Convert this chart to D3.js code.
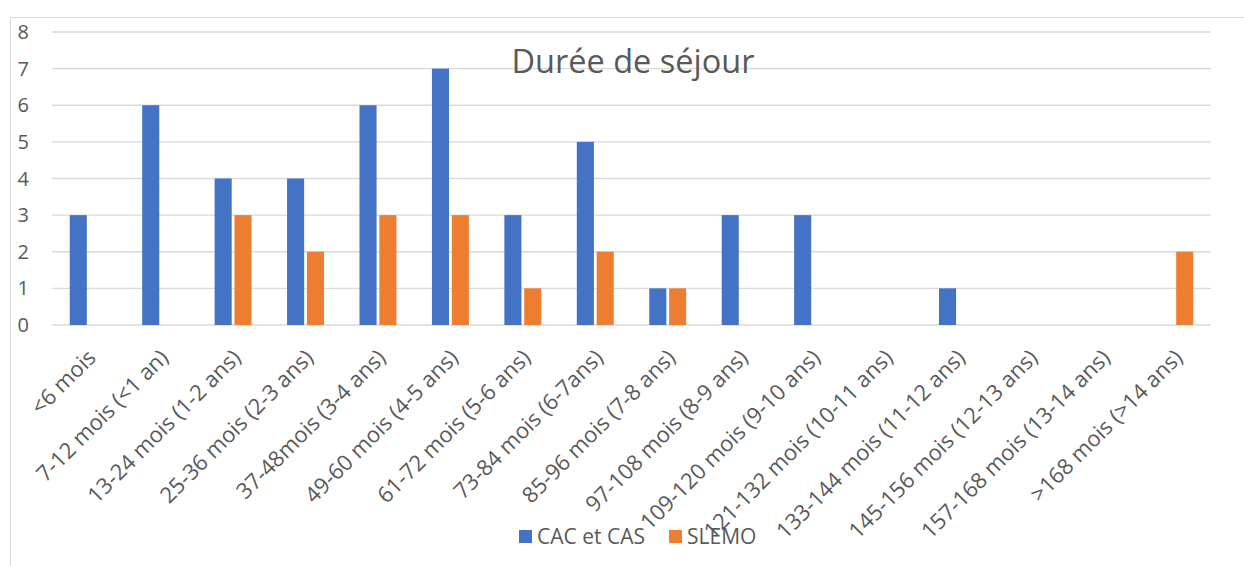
<!DOCTYPE html>
<html>
<head>
<meta charset="utf-8">
<script src="https://cdn.jsdelivr.net/npm/d3@7"></script>
<style>
  body { margin: 0; background: #fff; }
  text { font-family: "Open Sans", "Noto Sans", sans-serif; fill: #595959; }
</style>
</head>
<body>
<div id="chart"></div>
<script>
var categories = ["<6 mois", "7-12 mois (<1 an)", "13-24 mois (1-2 ans)", "25-36 mois (2-3 ans)",
  "37-48mois (3-4 ans)", "49-60 mois (4-5 ans)", "61-72 mois (5-6 ans)", "73-84 mois (6-7ans)",
  "85-96 mois (7-8 ans)", "97-108 mois (8-9 ans)", "109-120 mois (9-10 ans)", "121-132 mois (10-11 ans)",
  "133-144 mois (11-12 ans)", "145-156 mois (12-13 ans)", "157-168 mois (13-14 ans)", ">168 mois (>14 ans)"];
var cacCas = [3, 6, 4, 4, 6, 7, 3, 5, 1, 3, 3, 0, 1, 0, 0, 0];
var slemo  = [0, 0, 3, 2, 3, 3, 1, 2, 1, 0, 0, 0, 0, 0, 0, 2];
var seriesNames = ["CAC et CAS", "SLEMO"];
var colors = ["#4472c4", "#ed7d31"];
var yTicks = [0, 1, 2, 3, 4, 5, 6, 7, 8];

var width = 1244, height = 566;
var margin = {top: 32, right: 33, bottom: 241, left: 52};
var innerW = width - margin.left - margin.right,
    innerH = height - margin.top - margin.bottom;

var svg = d3.select('#chart')
  .append('svg')
    .attr('width', width)
    .attr('height', height);

// chart frame (partly off-screen like the screenshot)
svg.append('rect')
  .attr('x', 10.5).attr('y', 17.5)
  .attr('width', 1300).attr('height', 600)
  .attr('fill', 'none')
  .attr('stroke', '#d9d9d9');

var g = svg.append('g')
  .attr('transform', 'translate(' + margin.left + ',' + margin.top + ')');

var x = d3.scaleBand()
  .domain(categories)
  .range([0, innerW])
  .paddingInner(0.49)
  .paddingOuter(0.245);

var x1 = d3.scaleBand()
  .domain(seriesNames)
  .range([0, x.bandwidth()])
  .paddingInner(0.14);

var y = d3.scaleLinear()
  .domain([0, 8])
  .range([innerH, 0]);

// gridlines
g.selectAll('.grid')
  .data(yTicks)
  .enter()
  .append('line')
    .attr('x1', 0).attr('x2', innerW)
    .attr('y1', d => y(d)).attr('y2', d => y(d))
    .attr('stroke', '#d9d9d9')
    .attr('stroke-width', 1.4);

// y labels
g.selectAll('.ylab')
  .data(yTicks)
  .enter()
  .append('text')
    .attr('x', -23)
    .attr('y', d => y(d))
    .attr('dy', '0.35em')
    .attr('text-anchor', 'end')
    .attr('font-size', 20)
    .text(d => d);

// title (over the gridlines)
svg.append('text')
  .attr('x', 633)
  .attr('y', 73)
  .attr('text-anchor', 'middle')
  .attr('font-size', 32.5)
  .text('Durée de séjour');

// bars
var series = [cacCas, slemo];
var grp = g.selectAll('.grp')
  .data(categories)
  .enter()
  .append('g')
    .attr('transform', d => 'translate(' + x(d) + ',0)');

grp.selectAll('rect')
  .data((d, i) => seriesNames.map((s, k) => ({s: s, v: series[k][i], k: k})))
  .enter()
  .append('rect')
    .filter(d => d.v > 0)
    .attr('x', d => x1(d.s))
    .attr('width', x1.bandwidth())
    .attr('y', d => y(d.v))
    .attr('height', d => innerH - y(d.v))
    .attr('fill', d => colors[d.k]);

// x labels, rotated
g.selectAll('.xlab')
  .data(categories)
  .enter()
  .append('text')
    .attr('text-anchor', 'end')
    .attr('font-size', 22)
    .attr('transform', d => 'translate(' + (x(d) + x.bandwidth() / 2 + 9) + ',' + (innerH + 34) + ') rotate(-45)')
    .text(d => d);

// legend
var legend = svg.append('g')
  .attr('transform', 'translate(519,537)');
var legX = [0, 150];
seriesNames.forEach(function (s, k) {
  legend.append('rect')
    .attr('x', legX[k]).attr('y', -7)
    .attr('width', 13).attr('height', 13)
    .attr('fill', colors[k]);
  legend.append('text')
    .attr('x', legX[k] + 18).attr('y', 0)
    .attr('dy', '0.35em')
    .attr('font-size', 21)
    .text(s);
});
</script>
</body>
</html>
